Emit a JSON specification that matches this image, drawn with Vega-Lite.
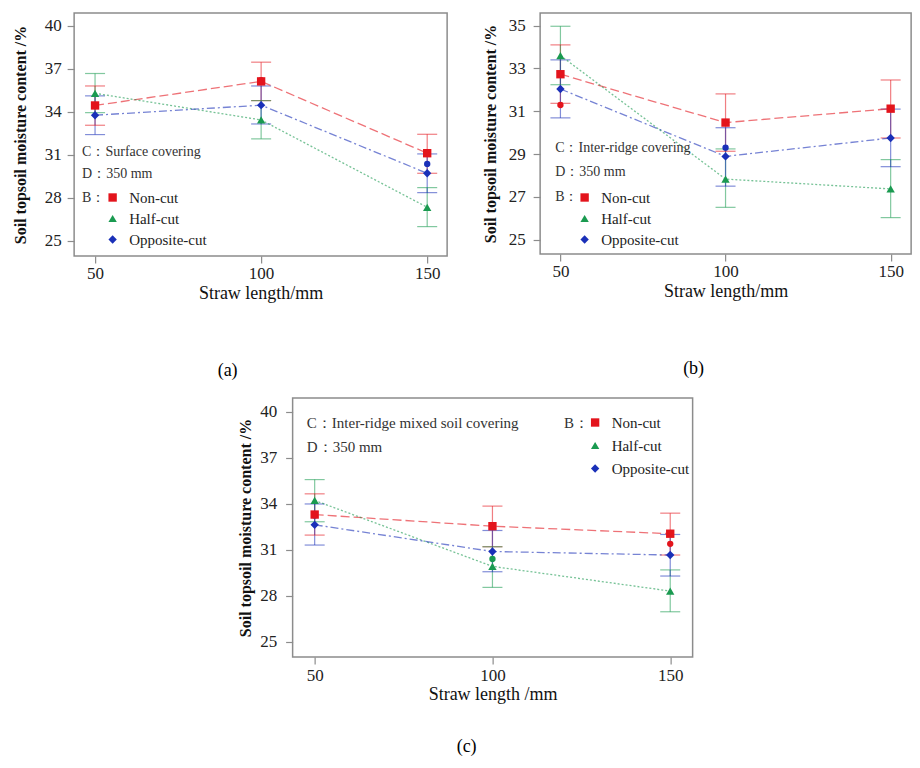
{
  "$schema": "https://vega.github.io/schema/vega-lite/v6.json",
  "padding": {"left": 11, "top": 12, "right": 0, "bottom": 0},
  "datasets": {
    "stats": [
      {"panel": "a", "series": "Non-cut", "length": 50, "mean": 34.45, "lo": 33.07, "hi": 35.81},
      {"panel": "a", "series": "Non-cut", "length": 100, "mean": 36.13, "lo": 34.79, "hi": 37.47},
      {"panel": "a", "series": "Non-cut", "length": 150, "mean": 31.12, "lo": 29.72, "hi": 32.44},
      {"panel": "a", "series": "Half-cut", "length": 50, "mean": 35.3, "lo": 33.95, "hi": 36.68},
      {"panel": "a", "series": "Half-cut", "length": 100, "mean": 33.44, "lo": 32.12, "hi": 34.79},
      {"panel": "a", "series": "Half-cut", "length": 150, "mean": 27.35, "lo": 26.0, "hi": 28.72},
      {"panel": "a", "series": "Opposite-cut", "length": 50, "mean": 33.77, "lo": 32.42, "hi": 35.12},
      {"panel": "a", "series": "Opposite-cut", "length": 100, "mean": 34.47, "lo": 33.16, "hi": 35.81},
      {"panel": "a", "series": "Opposite-cut", "length": 150, "mean": 29.72, "lo": 28.37, "hi": 31.07},
      {"panel": "b", "series": "Non-cut", "length": 50, "mean": 32.73, "lo": 31.37, "hi": 34.1},
      {"panel": "b", "series": "Non-cut", "length": 100, "mean": 30.47, "lo": 29.13, "hi": 31.81},
      {"panel": "b", "series": "Non-cut", "length": 150, "mean": 31.12, "lo": 29.75, "hi": 32.46},
      {"panel": "b", "series": "Half-cut", "length": 50, "mean": 33.6, "lo": 32.24, "hi": 34.97},
      {"panel": "b", "series": "Half-cut", "length": 100, "mean": 27.83, "lo": 26.51, "hi": 29.24},
      {"panel": "b", "series": "Half-cut", "length": 150, "mean": 27.37, "lo": 26.03, "hi": 28.74},
      {"panel": "b", "series": "Opposite-cut", "length": 50, "mean": 32.04, "lo": 30.69, "hi": 33.4},
      {"panel": "b", "series": "Opposite-cut", "length": 100, "mean": 28.89, "lo": 27.5, "hi": 30.23},
      {"panel": "b", "series": "Opposite-cut", "length": 150, "mean": 29.75, "lo": 28.41, "hi": 31.1},
      {"panel": "c", "series": "Non-cut", "length": 50, "mean": 33.31, "lo": 31.97, "hi": 34.66},
      {"panel": "c", "series": "Non-cut", "length": 100, "mean": 32.55, "lo": 31.21, "hi": 33.86},
      {"panel": "c", "series": "Non-cut", "length": 150, "mean": 32.06, "lo": 30.67, "hi": 33.4},
      {"panel": "c", "series": "Half-cut", "length": 50, "mean": 34.23, "lo": 32.84, "hi": 35.59},
      {"panel": "c", "series": "Half-cut", "length": 100, "mean": 29.93, "lo": 28.56, "hi": 31.21},
      {"panel": "c", "series": "Half-cut", "length": 150, "mean": 28.32, "lo": 26.97, "hi": 29.7},
      {"panel": "c", "series": "Opposite-cut", "length": 50, "mean": 32.64, "lo": 31.32, "hi": 34.0},
      {"panel": "c", "series": "Opposite-cut", "length": 100, "mean": 30.9, "lo": 29.58, "hi": 32.27},
      {"panel": "c", "series": "Opposite-cut", "length": 150, "mean": 30.67, "lo": 29.3, "hi": 32.01}
    ],
    "dots": [
      {"panel": "a", "series": "Non-cut", "length": 100, "value": 36.22},
      {"panel": "a", "series": "Opposite-cut", "length": 150, "value": 30.37},
      {"panel": "b", "series": "Non-cut", "length": 50, "value": 31.29},
      {"panel": "b", "series": "Opposite-cut", "length": 100, "value": 29.3},
      {"panel": "c", "series": "Opposite-cut", "length": 50, "value": 33.25},
      {"panel": "c", "series": "Half-cut", "length": 100, "value": 30.41},
      {"panel": "c", "series": "Non-cut", "length": 150, "value": 31.4}
    ],
    "notes": [
      {"panel": "a", "x": 46.1, "y": 31.2, "text": "C：Surface covering"},
      {"panel": "a", "x": 46.1, "y": 29.67, "text": "D：350 mm"},
      {"panel": "a", "x": 46.1, "y": 28.0, "text": "B："},
      {"panel": "b", "x": 48.4, "y": 29.27, "text": "C：Inter-ridge covering"},
      {"panel": "b", "x": 48.4, "y": 28.18, "text": "D：350 mm"},
      {"panel": "b", "x": 48.4, "y": 26.98, "text": "B："},
      {"panel": "c", "x": 47.8, "y": 39.28, "text": "C：Inter-ridge mixed soil covering"},
      {"panel": "c", "x": 47.8, "y": 37.72, "text": "D：350 mm"},
      {"panel": "c", "x": 120.1, "y": 39.3, "text": "B："}
    ]
  },
  "vconcat": [
    {
      "hconcat": [
        {
          "width": 373,
          "height": 243,
          "title": {"text": "(a)", "orient": "bottom", "offset": 60, "dx": -33},
          "encoding": {
            "x": {"field": "length", "type": "quantitative", "scale": {"domain": [43.7, 156], "nice": false, "zero": false}, "axis": {"values": [50, 100, 150], "title": "Straw length/mm", "labelPadding": 2, "titlePadding": 3}},
            "color": {"field": "series", "type": "nominal", "scale": {"domain": ["Non-cut", "Half-cut", "Opposite-cut"], "range": ["#e3141c", "#1a9a50", "#1a30b8"]}}
          },
          "layer": [
            {
              "data": {"name": "stats"},
              "transform": [{"filter": "datum.panel === 'a'"}],
              "mark": {"type": "rule", "opacity": 0.55, "strokeWidth": 1.2},
              "encoding": {
                "y": {"field": "lo", "type": "quantitative", "title": "Soil topsoil moisture content /%", "scale": {"domain": [23.95, 40.9], "nice": false, "zero": false}, "axis": {"values": [25, 28, 31, 34, 37, 40], "labelPadding": 6, "titlePadding": 16}},
                "y2": {"field": "hi"}
              }
            },
            {
              "data": {"name": "stats"},
              "transform": [{"filter": "datum.panel === 'a'"}],
              "mark": {"type": "tick", "orient": "horizontal", "size": 20, "thickness": 1.2, "opacity": 0.55},
              "encoding": {"y": {"field": "lo", "type": "quantitative", "title": "Soil topsoil moisture content /%"}}
            },
            {
              "data": {"name": "stats"},
              "transform": [{"filter": "datum.panel === 'a'"}],
              "mark": {"type": "tick", "orient": "horizontal", "size": 20, "thickness": 1.2, "opacity": 0.55},
              "encoding": {"y": {"field": "hi", "type": "quantitative", "title": "Soil topsoil moisture content /%"}}
            },
            {
              "data": {"name": "stats"},
              "transform": [{"filter": "datum.panel === 'a'"}],
              "mark": {"type": "line", "opacity": 0.6, "strokeWidth": 1.3},
              "encoding": {
                "y": {"field": "mean", "type": "quantitative", "title": "Soil topsoil moisture content /%"},
                "strokeDash": {"field": "series", "type": "nominal", "scale": {"domain": ["Non-cut", "Half-cut", "Opposite-cut"], "range": [[9, 4], [2, 2], [8, 3, 2, 3]]}, "legend": null}
              }
            },
            {
              "data": {"name": "dots"},
              "transform": [{"filter": "datum.panel === 'a'"}],
              "mark": {"type": "circle", "size": 40, "opacity": 1},
              "encoding": {"y": {"field": "value", "type": "quantitative", "title": "Soil topsoil moisture content /%"}}
            },
            {
              "data": {"name": "stats"},
              "transform": [{"filter": "datum.panel === 'a'"}],
              "mark": {"type": "point", "filled": true, "size": 70, "opacity": 1},
              "encoding": {
                "y": {"field": "mean", "type": "quantitative", "title": "Soil topsoil moisture content /%"},
                "color": {"field": "series", "type": "nominal", "scale": {"domain": ["Non-cut", "Half-cut", "Opposite-cut"], "range": ["#e3141c", "#1a9a50", "#1a30b8"]}, "legend": {"orient": "none", "legendX": 31, "legendY": 177, "title": null}},
                "shape": {"field": "series", "type": "nominal", "scale": {"domain": ["Non-cut", "Half-cut", "Opposite-cut"], "range": ["square", "triangle-up", "diamond"]}, "legend": {"orient": "none", "legendX": 31, "legendY": 177, "title": null}}
              }
            },
            {
              "data": {"name": "notes"},
              "transform": [{"filter": "datum.panel === 'a'"}],
              "mark": {"type": "text", "align": "left", "baseline": "middle", "fontSize": 14, "font": "Liberation Serif"},
              "encoding": {
                "x": {"field": "x", "type": "quantitative"},
                "y": {"field": "y", "type": "quantitative", "title": "Soil topsoil moisture content /%"},
                "text": {"field": "text"},
                "color": {"value": "#333333"}
              }
            }
          ]
        },
        {
          "width": 371,
          "height": 241,
          "title": {"text": "(b)", "orient": "bottom", "offset": 60, "dx": -32},
          "encoding": {
            "x": {"field": "length", "type": "quantitative", "scale": {"domain": [43.85, 156.2], "nice": false, "zero": false}, "axis": {"values": [50, 100, 150], "title": "Straw length/mm", "labelPadding": 2, "titlePadding": 3}},
            "color": {"field": "series", "type": "nominal", "scale": {"domain": ["Non-cut", "Half-cut", "Opposite-cut"], "range": ["#e3141c", "#1a9a50", "#1a30b8"]}}
          },
          "layer": [
            {
              "data": {"name": "stats"},
              "transform": [{"filter": "datum.panel === 'b'"}],
              "mark": {"type": "rule", "opacity": 0.55, "strokeWidth": 1.2},
              "encoding": {
                "y": {"field": "lo", "type": "quantitative", "title": "Soil topsoil moisture content /%", "scale": {"domain": [24.33, 35.59], "nice": false, "zero": false}, "axis": {"values": [25, 27, 29, 31, 33, 35], "labelPadding": 8, "titlePadding": 10}},
                "y2": {"field": "hi"}
              }
            },
            {
              "data": {"name": "stats"},
              "transform": [{"filter": "datum.panel === 'b'"}],
              "mark": {"type": "tick", "orient": "horizontal", "size": 20, "thickness": 1.2, "opacity": 0.55},
              "encoding": {"y": {"field": "lo", "type": "quantitative", "title": "Soil topsoil moisture content /%"}}
            },
            {
              "data": {"name": "stats"},
              "transform": [{"filter": "datum.panel === 'b'"}],
              "mark": {"type": "tick", "orient": "horizontal", "size": 20, "thickness": 1.2, "opacity": 0.55},
              "encoding": {"y": {"field": "hi", "type": "quantitative", "title": "Soil topsoil moisture content /%"}}
            },
            {
              "data": {"name": "stats"},
              "transform": [{"filter": "datum.panel === 'b'"}],
              "mark": {"type": "line", "opacity": 0.6, "strokeWidth": 1.3},
              "encoding": {
                "y": {"field": "mean", "type": "quantitative", "title": "Soil topsoil moisture content /%"},
                "strokeDash": {"field": "series", "type": "nominal", "scale": {"domain": ["Non-cut", "Half-cut", "Opposite-cut"], "range": [[9, 4], [2, 2], [8, 3, 2, 3]]}, "legend": null}
              }
            },
            {
              "data": {"name": "dots"},
              "transform": [{"filter": "datum.panel === 'b'"}],
              "mark": {"type": "circle", "size": 40, "opacity": 1},
              "encoding": {"y": {"field": "value", "type": "quantitative", "title": "Soil topsoil moisture content /%"}}
            },
            {
              "data": {"name": "stats"},
              "transform": [{"filter": "datum.panel === 'b'"}],
              "mark": {"type": "point", "filled": true, "size": 70, "opacity": 1},
              "encoding": {
                "y": {"field": "mean", "type": "quantitative", "title": "Soil topsoil moisture content /%"},
                "color": {"field": "series", "type": "nominal", "scale": {"domain": ["Non-cut", "Half-cut", "Opposite-cut"], "range": ["#e3141c", "#1a9a50", "#1a30b8"]}, "legend": {"orient": "none", "legendX": 37, "legendY": 177, "title": null}},
                "shape": {"field": "series", "type": "nominal", "scale": {"domain": ["Non-cut", "Half-cut", "Opposite-cut"], "range": ["square", "triangle-up", "diamond"]}, "legend": {"orient": "none", "legendX": 37, "legendY": 177, "title": null}}
              }
            },
            {
              "data": {"name": "notes"},
              "transform": [{"filter": "datum.panel === 'b'"}],
              "mark": {"type": "text", "align": "left", "baseline": "middle", "fontSize": 14, "font": "Liberation Serif"},
              "encoding": {
                "x": {"field": "x", "type": "quantitative"},
                "y": {"field": "y", "type": "quantitative", "title": "Soil topsoil moisture content /%"},
                "text": {"field": "text"},
                "color": {"value": "#333333"}
              }
            }
          ]
        }
      ],
      "spacing": 33,
      "resolve": {"scale": {"color": "independent", "shape": "independent", "strokeDash": "independent", "x": "independent", "y": "independent"}, "legend": {"color": "independent", "shape": "independent"}}
    },
    {
      "width": 400,
      "height": 259,
      "title": {"text": "(c)", "orient": "bottom", "offset": 35, "dx": -26},
      "encoding": {
        "x": {"field": "length", "type": "quantitative", "scale": {"domain": [43.8, 156.3], "nice": false, "zero": false}, "axis": {"values": [50, 100, 150], "title": "Straw length /mm", "labelPadding": 3, "titlePadding": 2}},
        "color": {"field": "series", "type": "nominal", "scale": {"domain": ["Non-cut", "Half-cut", "Opposite-cut"], "range": ["#e3141c", "#1a9a50", "#1a30b8"]}}
      },
      "layer": [
        {
          "data": {"name": "stats"},
          "transform": [{"filter": "datum.panel === 'c'"}],
          "mark": {"type": "rule", "opacity": 0.55, "strokeWidth": 1.2},
          "encoding": {
            "y": {"field": "lo", "type": "quantitative", "title": "Soil topsoil moisture content /%", "scale": {"domain": [24.02, 40.91], "nice": false, "zero": false}, "axis": {"values": [25, 28, 31, 34, 37, 40], "labelPadding": 9, "titlePadding": 6}},
            "y2": {"field": "hi"}
          }
        },
        {
          "data": {"name": "stats"},
          "transform": [{"filter": "datum.panel === 'c'"}],
          "mark": {"type": "tick", "orient": "horizontal", "size": 20, "thickness": 1.2, "opacity": 0.55},
          "encoding": {"y": {"field": "lo", "type": "quantitative", "title": "Soil topsoil moisture content /%"}}
        },
        {
          "data": {"name": "stats"},
          "transform": [{"filter": "datum.panel === 'c'"}],
          "mark": {"type": "tick", "orient": "horizontal", "size": 20, "thickness": 1.2, "opacity": 0.55},
          "encoding": {"y": {"field": "hi", "type": "quantitative", "title": "Soil topsoil moisture content /%"}}
        },
        {
          "data": {"name": "stats"},
          "transform": [{"filter": "datum.panel === 'c'"}],
          "mark": {"type": "line", "opacity": 0.6, "strokeWidth": 1.3},
          "encoding": {
            "y": {"field": "mean", "type": "quantitative", "title": "Soil topsoil moisture content /%"},
            "strokeDash": {"field": "series", "type": "nominal", "scale": {"domain": ["Non-cut", "Half-cut", "Opposite-cut"], "range": [[9, 4], [2, 2], [8, 3, 2, 3]]}, "legend": null}
          }
        },
        {
          "data": {"name": "dots"},
          "transform": [{"filter": "datum.panel === 'c'"}],
          "mark": {"type": "circle", "size": 40, "opacity": 1},
          "encoding": {"y": {"field": "value", "type": "quantitative", "title": "Soil topsoil moisture content /%"}}
        },
        {
          "data": {"name": "stats"},
          "transform": [{"filter": "datum.panel === 'c'"}],
          "mark": {"type": "point", "filled": true, "size": 70, "opacity": 1},
          "encoding": {
            "y": {"field": "mean", "type": "quantitative", "title": "Soil topsoil moisture content /%"},
            "color": {"field": "series", "type": "nominal", "scale": {"domain": ["Non-cut", "Half-cut", "Opposite-cut"], "range": ["#e3141c", "#1a9a50", "#1a30b8"]}, "legend": {"orient": "none", "legendX": 295, "legendY": 17, "title": null, "rowPadding": 7}},
            "shape": {"field": "series", "type": "nominal", "scale": {"domain": ["Non-cut", "Half-cut", "Opposite-cut"], "range": ["square", "triangle-up", "diamond"]}, "legend": {"orient": "none", "legendX": 295, "legendY": 17, "title": null, "rowPadding": 7}}
          }
        },
        {
          "data": {"name": "notes"},
          "transform": [{"filter": "datum.panel === 'c'"}],
          "mark": {"type": "text", "align": "left", "baseline": "middle", "fontSize": 15, "font": "Liberation Serif"},
          "encoding": {
            "x": {"field": "x", "type": "quantitative"},
            "y": {"field": "y", "type": "quantitative", "title": "Soil topsoil moisture content /%"},
            "text": {"field": "text"},
            "color": {"value": "#333333"}
          }
        }
      ]
    }
  ],
  "spacing": 16,
  "center": true,
  "resolve": {"scale": {"color": "independent", "shape": "independent", "strokeDash": "independent", "x": "independent", "y": "independent"}, "legend": {"color": "independent", "shape": "independent"}},
  "config": {
    "font": "Liberation Serif",
    "view": {"stroke": "#8c8c8c", "strokeWidth": 1.5},
    "axis": {"domain": false, "grid": false, "tickColor": "#8c8c8c", "tickSize": 7, "tickWidth": 1.2, "labelFont": "Liberation Serif", "labelFontSize": 17, "labelColor": "#222222", "titleFont": "Liberation Serif", "titleColor": "#111111"},
    "axisY": {"titleFontSize": 16, "titleFontWeight": "bold"},
    "axisX": {"titleFontSize": 18, "titleFontWeight": "normal"},
    "legend": {"labelFont": "Liberation Serif", "labelFontSize": 15, "labelColor": "#222222", "symbolSize": 70, "symbolOpacity": 1, "rowPadding": 5, "labelOffset": 9, "symbolStrokeWidth": 0},
    "title": {"font": "Liberation Serif", "fontSize": 18, "fontWeight": "normal", "color": "#000000"}
  }
}
